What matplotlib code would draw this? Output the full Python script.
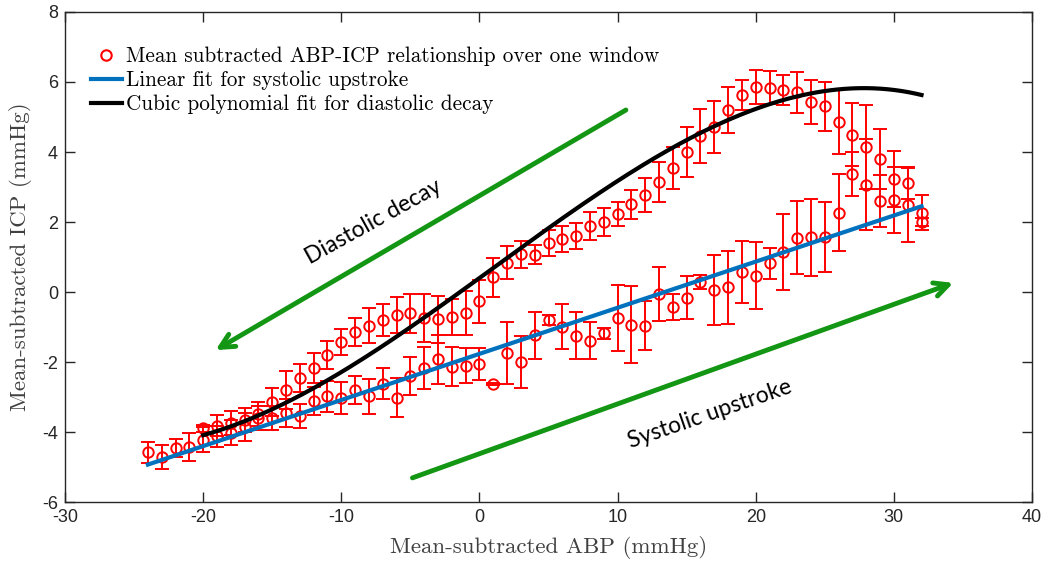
import numpy as np
import matplotlib
matplotlib.use("Agg")
import matplotlib.pyplot as plt
from matplotlib.lines import Line2D

# ---- data ----
# Systolic upstroke branch (lower loop)
sys_x = list(range(-24, 33))
sys_y = [-4.58, -4.72, -4.45, -4.43, -4.22, -4.12, -4.02, -3.85, -3.60, -3.60,
         -3.47, -3.54, -3.12, -2.98, -3.03, -2.80, -2.98, -2.62, -3.02, -2.40,
         -2.16, -1.92, -2.13, -2.10, -2.05, -2.64, -1.75, -2.00, -1.24, -0.80,
         -0.99, -1.25, -1.39, -1.18, -0.74, -0.94, -0.96, -0.06, -0.44, -0.16,
         0.29, 0.05, 0.13, 0.58, 0.47, 0.82, 1.14, 1.55, 1.56, 1.57,
         2.26, 3.37, 3.06, 2.60, 2.62, 2.49, 2.27]
sys_err = [0.30, 0.35, 0.25, 0.40, 0.35, 0.30, 0.35, 0.40, 0.35, 0.35,
           0.40, 0.35, 0.40, 0.45, 0.45, 0.40, 0.50, 0.45, 0.55, 0.55,
           0.60, 0.70, 0.55, 0.50, 0.45, 0.03, 0.88, 0.75, 0.68, 0.15,
           0.64, 0.67, 0.53, 0.15, 0.94, 1.10, 0.70, 0.78, 0.37, 0.62,
           0.20, 1.00, 1.05, 0.88, 0.95, 0.45, 1.08, 1.04, 1.10, 1.00,
           1.10, 0.63, 1.30, 0.73, 0.94, 1.05, 0.50]

# Diastolic decay branch (upper loop)
dia_x = list(range(-20, 33))
dia_y = [-3.89, -3.82, -3.74, -3.65, -3.48, -3.14, -2.80, -2.45, -2.16, -1.80,
         -1.43, -1.14, -0.97, -0.80, -0.66, -0.61, -0.75, -0.78, -0.71, -0.60,
         -0.27, 0.42, 0.84, 1.08, 1.06, 1.40, 1.52, 1.60, 1.89, 2.00,
         2.23, 2.51, 2.77, 3.14, 3.54, 4.00, 4.46, 4.71, 5.20, 5.63,
         5.86, 5.83, 5.77, 5.70, 5.43, 5.31, 4.86, 4.49, 4.14, 3.80,
         3.23, 3.11, 2.00]
dia_err = [0.10, 0.30, 0.35, 0.35, 0.35, 0.40, 0.55, 0.40, 0.43, 0.41,
           0.37, 0.40, 0.50, 0.46, 0.52, 0.55, 0.68, 0.68, 0.51, 0.63,
           0.62, 0.56, 0.48, 0.39, 0.27, 0.36, 0.38, 0.37, 0.40, 0.41,
           0.34, 0.41, 0.48, 0.57, 0.60, 0.72, 0.76, 0.74, 0.67, 0.42,
           0.49, 0.47, 0.43, 0.58, 0.64, 0.70, 0.93, 0.90, 1.20, 0.86,
           0.80, 0.45, 0.12]

# Linear fit (systolic upstroke): end points
lin_x = [-24, 32]
lin_y = [-4.93, 2.45]

# Cubic fit (diastolic decay): points
cub_px = [-20, -13.5, -5, -2, 5, 10, 20, 27, 32]
cub_py = [-4.06, -3.09, -1.13, -0.09, 1.91, 3.2, 5.11, 5.87, 5.63]

# Annotation arrows (data coordinates)
dia_arrow = [(10.6, 5.2), (-19.1, -1.66)]
sys_arrow = [(-4.85, -5.31), (34.3, 0.26)]

xticks = list(range(-30, 41, 10))
yticks = list(range(-6, 9, 2))

# ---- figure ----
fig = plt.figure(figsize=(10.47, 5.63), dpi=100)
ax = fig.add_axes([0.0621, 0.1083, 0.9236, 0.8704])

red = '#ff0000'
ax.errorbar(sys_x, sys_y, yerr=sys_err, fmt='o', mfc='none', mec=red, ecolor=red,
            ms=7.5, mew=1.4, elinewidth=1.4, capsize=5, capthick=1.4, zorder=2)
ax.errorbar(dia_x, dia_y, yerr=dia_err, fmt='o', mfc='none', mec=red, ecolor=red,
            ms=7.5, mew=1.4, elinewidth=1.4, capsize=5, capthick=1.4, zorder=2)

ax.plot(lin_x, lin_y, color='#0072BD', lw=3, zorder=3)
coef = np.polyfit(cub_px, cub_py, 3)
xc = np.linspace(-20, 32, 300)
ax.plot(xc, np.polyval(coef, xc), color='black', lw=3, zorder=3)

green = '#139613'
for (s, e) in (dia_arrow, sys_arrow):
    ax.annotate('', xy=e, xytext=s,
                arrowprops=dict(arrowstyle='->,head_length=1.0,head_width=0.5',
                                color=green, lw=3.5, shrinkA=0, shrinkB=0))

ax.text(-7.7, 2.0, 'Diastolic decay', rotation=29, ha='center', va='center',
        fontsize=16.5, family=['Lato', 'DejaVu Sans'])
ax.text(16.7, -3.5, 'Systolic upstroke', rotation=19, ha='center', va='center',
        fontsize=16.5, family=['Lato', 'DejaVu Sans'])

# legend
handles = [Line2D([], [], ls='none', marker='o', mfc='none', mec=red, ms=7.5, mew=1.5),
           Line2D([], [], color='#0072BD', lw=3),
           Line2D([], [], color='black', lw=3)]
labels = ['Mean subtracted ABP-ICP relationship over one window',
          'Linear fit for systolic upstroke',
          'Cubic polynomial fit for diastolic decay']
ax.legend(handles, labels, loc='upper left', bbox_to_anchor=(0.018, 0.947),
          frameon=False, prop={'family': 'cmr10', 'size': 15.3},
          handlelength=1.45, handletextpad=0.2, labelspacing=0.22, borderaxespad=0)

ax.set_xlim(-30, 40)
ax.set_ylim(-6, 8)
ax.set_xticks(xticks)
ax.set_yticks(yticks)
ax.set_xticklabels([str(t) for t in xticks])
ax.set_yticklabels([str(t) for t in yticks])
ax.tick_params(direction='in', length=7, width=1, top=True, right=True,
               labelsize=13, pad=5, colors='#262626')
for lab in ax.get_xticklabels() + ax.get_yticklabels():
    lab.set_family(['Liberation Sans Narrow', 'Liberation Sans'])
for sp in ax.spines.values():
    sp.set_color('#262626')
    sp.set_linewidth(1)

ax.set_xlabel('Mean-subtracted ABP (mmHg)', family='cmr10', fontsize=16.5,
              color='#404040', labelpad=7)
ax.set_ylabel('Mean-subtracted ICP (mmHg)', family='cmr10', fontsize=16.5,
              color='#404040', labelpad=7)

fig.savefig('out.png', dpi=100)
